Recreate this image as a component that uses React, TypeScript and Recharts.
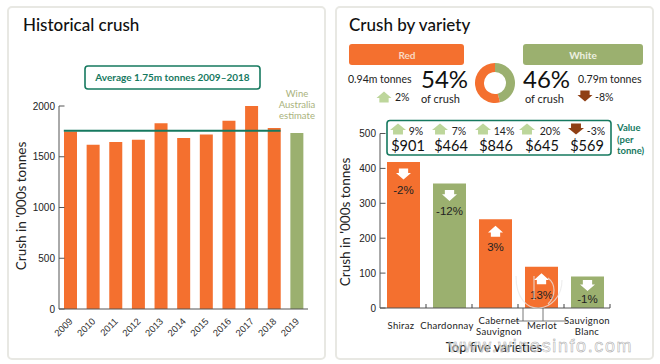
import React from 'react';
import { BarChart, Bar, Cell, XAxis, YAxis, ReferenceLine, LabelList, PieChart, Pie } from 'recharts';

const ORANGE = '#f4702f';
const GREEN = '#9bb06f';
const TEAL = '#16795f';
const LIGHT = '#bdd69b';
const BROWN = '#8f3f14';
const FONT = 'Lato, sans-serif';
const AXIS_FONT = '"Liberation Sans", sans-serif';

const years = ['2009', '2010', '2011', '2012', '2013', '2014', '2015', '2016', '2017', '2018', '2019'];
const crush = [1750, 1619, 1645, 1668, 1829, 1685, 1720, 1855, 2000, 1783, 1734];
const averageCrush = 1755;

const varieties = ['Shiraz', 'Chardonnay', 'Cabernet Sauvignon', 'Merlot', 'Sauvignon Blanc'];
const varietyCrush = [418, 357, 254, 118, 90];
const varietyChange = [-2, -12, 3, 13, -1];
const varietyColour = [ORANGE, GREEN, ORANGE, ORANGE, GREEN];

const shareNames = ['White', 'Red'];
const shareValues = [46, 54];
const shareColours = [GREEN, ORANGE];

const valueChange = [9, 7, 14, 20, -3];
const valuePrice = [901, 464, 846, 645, 569];

const historyData = years.map((year, i) => ({ year, crush: crush[i] }));
const varietyData = varieties.map((name, i) => ({ name, crush: varietyCrush[i], change: varietyChange[i] }));
const shareData = shareNames.map((name, i) => ({ name, value: shareValues[i] }));

// little house shaped arrow, centred on cx/cy
const Arrow = ({ cx, cy, up, fill, w = 15, h = 11 }: any) => {
  const hw = w / 2, hh = h / 2, s = w * 0.31;
  const dir = up ? 1 : -1;
  const eave = cy + dir * (h * 0.6 - hh);
  const pts = [
    [cx, cy - dir * hh],
    [cx + hw, eave],
    [cx + s, eave],
    [cx + s, cy + dir * hh],
    [cx - s, cy + dir * hh],
    [cx - s, eave],
    [cx - hw, eave],
  ];
  return <polygon points={pts.map((p) => p.join(',')).join(' ')} fill={fill} />;
};

const YTick = ({ x, y, payload }: any) => (
  <g>
    <text x={x - 4} y={y + 3.5} textAnchor="end" fontFamily={AXIS_FONT} fontSize={10} fill="#222">{payload.value}</text>
    <line x1={x} x2={x + 5.5} y1={y} y2={y} stroke="#555" strokeWidth={1} />
  </g>
);

const HistoryXTick = ({ x, y, payload }: any) => (
  <text x={x + 3} y={y + 13} textAnchor="end" fontFamily={AXIS_FONT} fontSize={9.5} fill="#333" transform={`rotate(-45 ${x + 3} ${y + 13})`}>
    {payload.value}
  </text>
);

const labelNudge = [-2, -2, 4, 1, 0];

const VarietyXTick = ({ x, y, payload, index }: any) => {
  const lines = payload.value.split(' ');
  return (
    <g>
      <line x1={x + 23} x2={x + 23} y1={y - 4} y2={y} stroke="#444" />
      {lines.map((line: string, i: number) => (
        <text key={line} x={x + labelNudge[index]} y={lines.length > 1 ? y + 16 + i * 11 : y + 21} textAnchor="middle" fontFamily={FONT} fontSize={9.5} letterSpacing={0.3} fill="#222">
          {line}
        </text>
      ))}
    </g>
  );
};

const ChangeLabel = ({ x, y, width, height, index }: any) => {
  const change = varietyChange[index];
  const cx = x + width / 2;
  const short = height < 35;
  return (
    <g>
      <Arrow cx={cx} cy={y + (short ? 9 : 12)} up={change > 0} fill="#fff" />
      <text x={cx} y={y + (short ? 26 : 32)} textAnchor="middle" fontFamily={AXIS_FONT} fontSize={11.5} fill="#222">{change}%</text>
    </g>
  );
};

const AverageLine = ({ x1, x2, y1 }: any) => (
  <line x1={x1 - 6.5} x2={x2 + 6.5} y1={y1} y2={y1} stroke={TEAL} strokeWidth={2} />
);

const Txt = ({ x, y, size = 10, fill = '#222', anchor = 'start', weight = 400, children }: any) => (
  <text x={x} y={y} fontFamily={FONT} fontSize={size} fill={fill} textAnchor={anchor} fontWeight={weight}>{children}</text>
);

const boxArrowX = [398, 440, 483, 527, 576];
const boxPctX = [416, 459, 504, 550, 596];
const boxPriceX = [408, 451, 496, 542, 587];

export default function App() {
  document.body.style.margin = '0';
  return (
    <div style={{ position: 'relative', width: 660, height: 364, background: '#fff', overflow: 'hidden' }}>
      <div style={{ position: 'absolute', left: 7, top: 6, width: 315, height: 350, border: '2px solid #e8e8e3', borderRadius: 5 }} />
      <div style={{ position: 'absolute', left: 335, top: 6, width: 315, height: 350, border: '2px solid #e8e8e3', borderRadius: 5 }} />

      <div style={{ position: 'absolute', left: 0, top: 90 }}>
        <BarChart width={330} height={260} data={historyData} margin={{ top: 16, right: 22, bottom: 0, left: 19 }} barCategoryGap={0}>
          <XAxis dataKey="year" interval={0} tickLine={false} tickSize={0} tickMargin={0} stroke="#555" tick={<HistoryXTick />} height={41} />
          <YAxis width={40} domain={[0, 2000]} ticks={[0, 500, 1000, 1500, 2000]} tickLine={false} tickSize={0} tickMargin={0} stroke="#555" tick={<YTick />} />
          <Bar dataKey="crush" barSize={13} isAnimationActive={false}>
            {historyData.map((d, i) => <Cell key={d.year} fill={i === 10 ? GREEN : ORANGE} />)}
          </Bar>
          <ReferenceLine segment={[{ x: '2009', y: averageCrush }, { x: '2018', y: averageCrush }]} shape={<AverageLine />} />
        </BarChart>
      </div>

      <div style={{ position: 'absolute', left: 330, top: 120 }}>
        <BarChart width={330} height={244} data={varietyData} margin={{ top: 13.5, right: 50, bottom: 0, left: 10 }} barCategoryGap={0}>
          <XAxis dataKey="name" interval={0} tickLine={false} tickSize={0} tickMargin={0} stroke="#555" tick={<VarietyXTick />} height={56} />
          <YAxis width={40} domain={[0, 500]} ticks={[0, 100, 200, 300, 400, 500]} tickLine={false} tickSize={0} tickMargin={0} stroke="#555" tick={<YTick />} />
          <Bar dataKey="crush" barSize={33} isAnimationActive={false}>
            {varietyData.map((d, i) => <Cell key={d.name} fill={varietyColour[i]} />)}
            <LabelList dataKey="crush" content={<ChangeLabel />} />
          </Bar>
        </BarChart>
      </div>

      <div style={{ position: 'absolute', left: 470, top: 58 }}>
        <PieChart width={50} height={50} margin={{ top: 0, right: 0, bottom: 0, left: 0 }}>
          <Pie data={shareData} dataKey="value" cx={25} cy={25} innerRadius={11} outerRadius={20} startAngle={90} endAngle={-270} stroke="none" isAnimationActive={false}>
            {shareData.map((d, i) => <Cell key={d.name} fill={shareColours[i]} />)}
          </Pie>
        </PieChart>
      </div>

      <svg width={660} height={364} style={{ position: 'absolute', left: 0, top: 0, pointerEvents: 'none' }}>
        <Txt x={23} y={31} size={17} fill="#111" weight={500}>Historical crush</Txt>
        <rect x={85} y={66} width={175} height={23} rx={3} fill="#fff" stroke={TEAL} strokeWidth={1.6} />
        <Txt x={172.5} y={81} size={10} fill={TEAL} anchor="middle" weight={700}>Average 1.75m tonnes 2009–2018</Txt>
        <Txt x={297} y={97} size={9.5} fill="#a9b27c" anchor="middle">Wine</Txt>
        <Txt x={297} y={108} size={9.5} fill="#a9b27c" anchor="middle">Australia</Txt>
        <Txt x={297} y={119} size={9.5} fill="#a9b27c" anchor="middle">estimate</Txt>
        <text x={0} y={0} transform="translate(26 206) rotate(-90)" fontFamily={FONT} fontSize={13.5} fill="#222" textAnchor="middle">Crush in '000s tonnes</text>

        <Txt x={349} y={31} size={17} fill="#111" weight={500}>Crush by variety</Txt>
        <rect x={349} y={44} width={115} height={21} rx={3} fill={ORANGE} />
        <rect x={523} y={44} width={120} height={21} rx={3} fill={GREEN} />
        <Txt x={407} y={58.5} size={10} fill="#f9d9c2" anchor="middle" weight={700}>Red</Txt>
        <Txt x={583} y={58.5} size={10} fill="#eef1e2" anchor="middle" weight={700}>White</Txt>

        <Txt x={348} y={83} size={10.5}>0.94m tonnes</Txt>
        <Txt x={421} y={88} size={24} fill="#111">54%</Txt>
        <Txt x={421} y={102.5} size={11}>of crush</Txt>
        <Arrow cx={384} cy={97} up fill={LIGHT} />
        <Txt x={395} y={101} size={10.5}>2%</Txt>

        <Txt x={523} y={88} size={24} fill="#111">46%</Txt>
        <Txt x={525} y={102.5} size={11}>of crush</Txt>
        <Txt x={578} y={83} size={10.5}>0.79m tonnes</Txt>
        <Arrow cx={585} cy={96} up={false} fill={BROWN} />
        <Txt x={595} y={101} size={10.5}>-8%</Txt>

        <rect x={387} y={120.5} width={224} height={34.5} rx={3} fill="#fff" stroke={TEAL} strokeWidth={1.6} />
        {valueChange.map((change, i) => (
          <g key={i}>
            <Arrow cx={boxArrowX[i]} cy={129} up={change > 0} fill={change > 0 ? LIGHT : BROWN} w={16} />
            <Txt x={boxPctX[i]} y={135} size={10.5} anchor="middle">{change}%</Txt>
            <Txt x={boxPriceX[i]} y={151} size={14.5} fill="#111" anchor="middle">${valuePrice[i]}</Txt>
          </g>
        ))}
        <Txt x={617} y={131} size={9.5} fill={TEAL} weight={700}>Value</Txt>
        <Txt x={617} y={143} size={9.5} fill={TEAL} weight={700}>(per</Txt>
        <Txt x={617} y={154} size={9.5} fill={TEAL} weight={700}>tonne)</Txt>

        <text x={0} y={0} transform="translate(350 222) rotate(-90)" fontFamily={FONT} fontSize={13.5} fill="#222" textAnchor="middle">Crush in '000s tonnes</text>

        {/* leader lines under the axis labels */}
        <path d="M523 308V321M543 308V321M515 321H567" fill="none" stroke="#555" strokeWidth={0.8} />

        <Txt x={494} y={352} size={13} fill="#222" anchor="middle" weight={500}>Top five varieties</Txt>

        {/* watermark over the bottom right of the picture */}
        <path d="M516 276C516 322 562 314 562 280M534 276V300M548 278C556 284 556 296 548 304" fill="none" stroke="#e8e8e8" strokeOpacity={0.75} strokeWidth={1.2} />
        <text x={541} y={352} textAnchor="middle" fontFamily={AXIS_FONT} fontSize={18} letterSpacing={1.6} fill="#ffffff" fillOpacity={0.55} stroke="#a8a8a8" strokeWidth={0.5}>www.winesinfo.com</text>
      </svg>
    </div>
  );
}
